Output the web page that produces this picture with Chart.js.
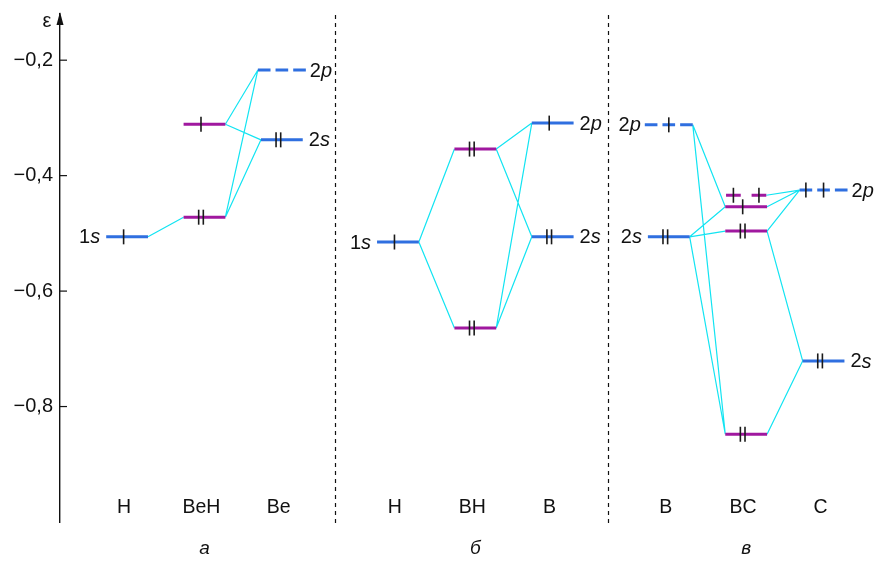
<!DOCTYPE html>
<html><head><meta charset="utf-8">
<script src="https://cdn.jsdelivr.net/npm/chart.js@4.4.1/dist/chart.umd.min.js"></script>
<style>html,body{margin:0;padding:0;background:#fff}canvas{display:block}</style>
</head><body>
<canvas id="c" width="878" height="563"></canvas>
<script>
// ---- data ----
const categories = ['H', 'BeH', 'Be', 'H', 'BH', 'B', 'B', 'BC', 'C'];
const panelLabels = ['а', 'б', 'в'];
const yTicks = [-0.8, -0.6, -0.4, -0.2];
// energy levels: column (index into categories), energy, occupancy per orbital, label
const levelColumn = [0, 1, 1, 2, 2,   3, 4, 4, 5, 5,   6, 6, 7, 7, 7, 7, 8, 8];
const levelEnergy = [-0.506, -0.311, -0.472, -0.217, -0.338,
                     -0.515, -0.354, -0.664, -0.309, -0.506,
                     -0.312, -0.506, -0.434, -0.454, -0.496, -0.848, -0.425, -0.721];
const levelOccupancy = [[1], [1], [2], [0, 0, 0], [2],
                        [1], [2], [2], [1], [2],
                        [0, 1, 0], [2], [1, 1], [1], [2], [2], [1, 1, 0], [2]];
const levelLabel = ['1s', '', '', '2p', '2s',
                    '1s', '', '', '2p', '2s',
                    '2p', '2s', '', '', '', '', '2p', '2s'];
// correlation lines: pairs of level indices
const links = [[0, 2], [2, 3], [2, 4], [1, 3], [1, 4],
               [5, 6], [5, 7], [6, 8], [6, 9], [7, 8], [7, 9],
               [10, 13], [10, 15], [11, 13], [11, 14], [11, 15],
               [12, 16], [13, 16], [14, 16], [14, 17], [15, 17]];

// ---- layout / style ----
const FONT = '"Liberation Sans", Arial, Helvetica, sans-serif';
const columnX = [0, 1, 2, 3.5, 4.5, 5.5, 7, 8, 9];
const panelX = [1, 4.5, 8];
const separatorsX = [2.69, 6.21];
const X_MIN = -0.867, X_MAX = 9.586;
const HALF = {1: 0.27, 2: 0.26, 3: 0.31};
const GAP = {2: 0.14, 3: 0.065};
const BLUE = '#2f6fe0', PURPLE = '#a0189f', CYAN = '#12e4f2';
const isMolecular = c => c === 1 || c === 4 || c === 7;
const noPad = s => { s.paddingLeft = 0; s.paddingRight = 0; s.paddingTop = 0; s.paddingBottom = 0; };

function segs(i) {
  const occ = levelOccupancy[i], k = occ.length;
  const c = columnX[levelColumn[i]], hw = HALF[k];
  if (k === 1) return [[c - hw, c + hw]];
  const g = GAP[k], w = (2 * hw - (k - 1) * g) / k;
  return occ.map((_, j) => [c - hw + j * (w + g), c - hw + j * (w + g) + w]);
}
function levelPoints(filter) {
  const pts = [];
  levelEnergy.forEach((e, i) => {
    if (!filter(levelColumn[i])) return;
    segs(i).forEach(([a, b]) => { pts.push({x: a, y: e}, {x: b, y: e}, {x: b, y: null}); });
  });
  return pts;
}
const linkPts = [];
links.forEach(([a, b]) => {
  const ca = columnX[levelColumn[a]], cb = columnX[levelColumn[b]];
  const sa = segs(a), sb = segs(b);
  const xa = ca < cb ? sa[sa.length - 1][1] : sa[0][0];
  const xb = ca < cb ? sb[0][0] : sb[sb.length - 1][1];
  linkPts.push({x: xa, y: levelEnergy[a]}, {x: xb, y: levelEnergy[b]}, {x: xb, y: null});
});
const elecPts = [];
levelEnergy.forEach((e, i) => {
  const occ = levelOccupancy[i], s = segs(i);
  occ.forEach((n, j) => {
    const mid = occ.length === 1 ? (s[j][0] + s[j][1]) / 2 - 0.045 : (s[j][0] + s[j][1]) / 2;
    if (n === 1) elecPts.push({x: mid, y: e});
    if (n === 2) { elecPts.push({x: mid - 0.03, y: e}); elecPts.push({x: mid + 0.03, y: e}); }
  });
});

const deco = {
  id: 'deco',
  afterDraw(chart) {
    const ctx = chart.ctx, a = chart.chartArea, xs = chart.scales.x, ys = chart.scales.y;
    ctx.save();
    // arrow
    ctx.fillStyle = '#111';
    ctx.beginPath(); ctx.moveTo(a.left, a.top - 2); ctx.lineTo(a.left - 3.5, a.top + 11); ctx.lineTo(a.left + 3.5, a.top + 11); ctx.closePath(); ctx.fill();
    ctx.font = '20px ' + FONT; ctx.textAlign = 'center'; ctx.textBaseline = 'middle';
    ctx.fillText('ε', a.left - 13, a.top + 7);
    // inward tick marks
    ctx.strokeStyle = '#111'; ctx.lineWidth = 1.2;
    yTicks.forEach(v => { const p = ys.getPixelForValue(v); ctx.beginPath(); ctx.moveTo(a.left, p); ctx.lineTo(a.left + 7, p); ctx.stroke(); });
    // separators
    ctx.setLineDash([4, 4]); ctx.lineWidth = 1.2;
    separatorsX.forEach(v => { const p = Math.round(xs.getPixelForValue(v)) + 0.5; ctx.beginPath(); ctx.moveTo(p, a.top + 1); ctx.lineTo(p, a.bottom + 3); ctx.stroke(); });
    ctx.setLineDash([]);
    // level labels
    ctx.textBaseline = 'middle'; ctx.fillStyle = '#111';
    levelLabel.forEach((t, i) => {
      if (!t) return;
      const col = levelColumn[i], s = segs(i), y = ys.getPixelForValue(levelEnergy[i]);
      const left = col === 0 || col === 3 || col === 6;
      const gap = levelOccupancy[i].length === 1 ? 6 : 4;
      const fN = '20px ' + FONT, fI = 'italic 20px ' + FONT;
      ctx.font = fN; const w1 = ctx.measureText(t[0]).width;
      ctx.font = fI; const w2 = ctx.measureText(t[1]).width;
      let x0 = left ? xs.getPixelForValue(s[0][0]) - gap - (w1 + w2) : xs.getPixelForValue(s[s.length - 1][1]) + gap;
      ctx.textAlign = 'left';
      ctx.font = fN; ctx.fillText(t[0], x0, y + 1);
      ctx.font = fI; ctx.fillText(t[1], x0 + w1, y + 1);
    });
    ctx.restore();
  }
};

new Chart(document.getElementById('c'), {
  type: 'scatter',
  data: {
    datasets: [
      {data: linkPts, showLine: true, borderColor: CYAN, borderWidth: 1.2, pointRadius: 0, spanGaps: false, order: 3},
      {data: levelPoints(c => !isMolecular(c)), showLine: true, borderColor: BLUE, borderWidth: 3, pointRadius: 0, spanGaps: false, order: 2},
      {data: levelPoints(isMolecular), showLine: true, borderColor: PURPLE, borderWidth: 3, pointRadius: 0, spanGaps: false, order: 2},
      {data: elecPts, showLine: false, pointStyle: 'line', rotation: 90, pointRadius: 7.5, borderColor: '#1a1a1a', borderWidth: 1.6, order: 1}
    ]
  },
  options: {
    responsive: false, animation: false, events: [],
    layout: {padding: {top: 14, left: 0, right: 0, bottom: 0}},
    plugins: {legend: {display: false}, tooltip: {enabled: false}},
    scales: {
      x: {
        type: 'linear', min: X_MIN, max: X_MAX, position: 'bottom',
        afterBuildTicks: s => { s.ticks = panelX.map(v => ({value: v})); },
        ticks: {callback: (v, i) => panelLabels[i], font: {family: FONT, size: 19, style: 'italic'}, color: '#111', padding: 15, maxRotation: 0, autoSkip: false},
        grid: {display: false, drawTicks: false}, border: {display: false},
        afterFit: s => { s.height = 41; noPad(s); }
      },
      xc: {
        type: 'linear', axis: 'x', min: X_MIN, max: X_MAX, position: {y: -0.955},
        afterBuildTicks: s => { s.ticks = columnX.map(v => ({value: v - 0.04})); },
        ticks: {callback: (v, i) => categories[i], font: {family: FONT, size: 19.5}, color: '#111', padding: 0, maxRotation: 0, autoSkip: false},
        grid: {display: false, drawTicks: false}, border: {display: false},
        afterFit: s => { noPad(s); }
      },
      y: {
        type: 'linear', min: -1.0, max: -0.12,
        afterBuildTicks: s => { s.ticks = yTicks.map(v => ({value: v})); },
        ticks: {callback: v => '\u2212' + Math.abs(v).toFixed(1).replace('.', ','), font: {family: FONT, size: 20}, color: '#111', padding: 7},
        grid: {display: false, drawTicks: false}, border: {display: true, color: '#111', width: 1.4},
        afterFit: s => { s.width = 60; noPad(s); }
      }
    }
  },
  plugins: [deco]
});
</script>
</body></html>
